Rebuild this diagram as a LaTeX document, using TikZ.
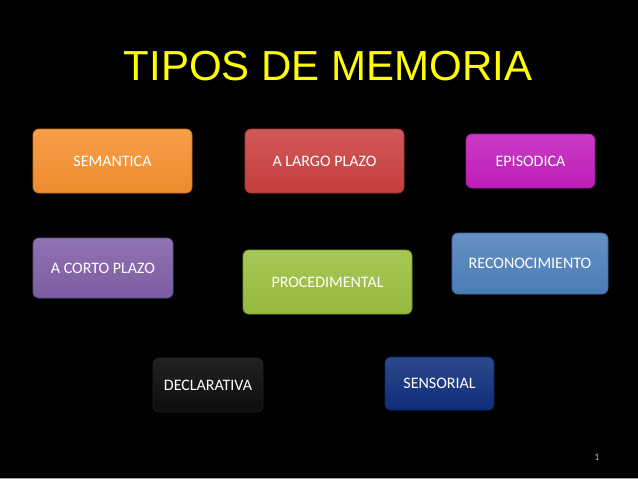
\documentclass[tikz,border=0pt]{standalone}
\usepackage{fontspec}
\setmainfont{Carlito}
\newfontfamily\titlefont{Liberation Sans}
\usetikzlibrary{positioning}

\definecolor{semcol}{HTML}{F7912F}
\definecolor{largocol}{HTML}{CC4140}
\definecolor{epicol}{HTML}{C41FBE}
\definecolor{cortocol}{HTML}{8160A8}
\definecolor{proccol}{HTML}{9CC03F}
\definecolor{reconcol}{HTML}{4F81BD}
\definecolor{declcol}{HTML}{0E0E0E}
\definecolor{senscol}{HTML}{10307E}
\definecolor{titlecol}{HTML}{FFFF00}

\tikzset{
  membox/.style={rounded corners=6pt, text=white, font=\fontsize{16}{18}\selectfont,
    inner sep=0pt, top color=#1!88!white, bottom color=#1!96!black, draw=#1!80!black, line width=0.8pt}
}

\begin{document}
\begin{tikzpicture}[x=1pt,y=-1pt]
      % fondo negro
      \fill[black] (0,0) rectangle (638,479);
      \useasboundingbox (0,0) rectangle (638,479);
      \draw[gray!70, line width=1.2pt] (0,478.4) -- (638,478.4);

      % titulo
      \node[text=titlecol, font=\titlefont\fontsize{42}{48}\selectfont, anchor=base] (titulo) at (328,80) {TIPOS DE MEMORIA};

      % primera fila
      \node[membox=semcol, minimum width=159pt, minimum height=64pt] (sem) at (112.5,161) {SEMANTICA};
      \node[membox=largocol, minimum width=159pt, minimum height=64pt] (largo) at (324.5,161) {A LARGO PLAZO};
      \node[membox=epicol, minimum width=129pt, minimum height=54pt] (epi) at (530.5,161) {EPISODICA};

      % segunda fila
      \node[membox=cortocol, minimum width=140pt, minimum height=60pt] (corto) at (103,268) {A CORTO PLAZO};
      \node[membox=proccol, minimum width=169pt, minimum height=64pt] (proc) at (327.5,282) {PROCEDIMENTAL};
      \node[membox=reconcol, minimum width=156pt, minimum height=61pt] (recon) at (530,263.5) {RECONOCIMIENTO};

      % tercera fila
      \node[membox=declcol, top color=declcol!92!white, draw=gray!25!black, minimum width=110pt, minimum height=54pt] (decl) at (208,385) {DECLARATIVA};
      \node[membox=senscol, minimum width=109pt, minimum height=53pt] (sens) at (439.5,383.5) {SENSORIAL};

      % numero de pagina
      \node[text=gray!60!white, font=\fontsize{10}{11}\selectfont] (num) at (597,457) {1};
    \end{tikzpicture}
\end{document}
